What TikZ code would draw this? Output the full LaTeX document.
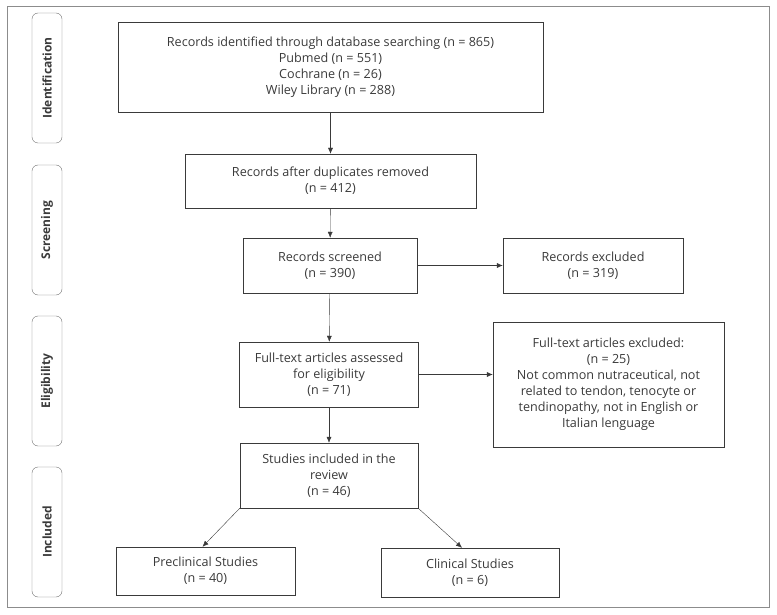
\documentclass[tikz,border=0pt]{standalone}
\usepackage{fontspec}
\setmainfont{Open Sans}
\usetikzlibrary{arrows.meta}
\definecolor{inkgray}{HTML}{3A3A3A}
\definecolor{framegray}{HTML}{8C8C8C}
\tikzset{
  flowbox/.style={draw=inkgray, text=inkgray, align=center, inner sep=2pt,
    font=\fontsize{12.6}{16}\selectfont},
  phasebox/.style={draw=framegray!80!black, rounded corners=6pt, minimum width=30pt,
    minimum height=130pt, text=inkgray, font=\fontsize{12}{14}\selectfont\bfseries},
  flowarrow/.style={draw=inkgray, -{Latex[length=6pt,width=5pt]}}
}
\begin{document}
\begin{tikzpicture}[x=1pt, y=-1pt]
\useasboundingbox (0,0) rectangle (777,615);
\draw[framegray, line width=1pt] (7,7) rectangle (769,607);
% phase labels
\node[phasebox] (ident) at (47,78) {\rotatebox{90}{Identification}};
\node[phasebox] (screen) at (47,230) {\rotatebox{90}{Screening}};
\node[phasebox] (elig) at (47,381) {\rotatebox{90}{Eligibility}};
\node[phasebox] (incl) at (47,532) {\rotatebox{90}{Included}};
% boxes
\node[flowbox, minimum width=425pt, minimum height=90pt] (found) at (330.5,67)
  {Records identified through database searching (n = 865)\\Pubmed (n = 551)\\Cochrane (n = 26)\\Wiley Library (n = 288)};
\node[flowbox, minimum width=291pt, minimum height=54pt] (nodup) at (330.5,181)
  {Records after duplicates removed\\(n = 412)};
\node[flowbox, minimum width=174pt, minimum height=55pt] (screened) at (330,265.5)
  {Records screened\\(n = 390)};
\node[flowbox, minimum width=180pt, minimum height=55pt] (recexcl) at (593,265.5)
  {Records excluded\\(n = 319)};
\node[flowbox, minimum width=179pt, minimum height=65pt] (fulltext) at (329,374.5)
  {Full-text articles assessed\\for eligibility\\(n = 71)};
\node[flowbox, minimum width=231pt, minimum height=125pt] (fullexcl) at (608.5,384.5)
  {Full-text articles excluded:\\(n = 25)\\Not common nutraceutical, not\\related to tendon, tenocyte or\\tendinopathy, not in English or\\Italian lenguage};
\node[flowbox, minimum width=178pt, minimum height=65pt] (included) at (329,475.5)
  {Studies included in the\\review\\(n = 46)};
\node[flowbox, minimum width=179pt, minimum height=48pt] (preclin) at (205.5,571)
  {Preclinical Studies\\(n = 40)};
\node[flowbox, minimum width=178pt, minimum height=49pt] (clin) at (470,572.5)
  {Clinical Studies\\(n = 6)};
% arrows
\draw[flowarrow] (found) -- (nodup);
\draw[flowarrow] (nodup) -- (screened);
\draw[flowarrow] (screened) -- (recexcl);
\draw[flowarrow] (screened) -- (fulltext);
\draw[flowarrow] (fulltext.east) -- (fulltext.east -| fullexcl.west);
\draw[flowarrow] (fulltext) -- (included);
\draw[flowarrow] (included.south west) -- ([xshift=-3pt]preclin.north);
\draw[flowarrow] (included.south east) -- ([xshift=-8pt]clin.north);
\end{tikzpicture}
\end{document}
